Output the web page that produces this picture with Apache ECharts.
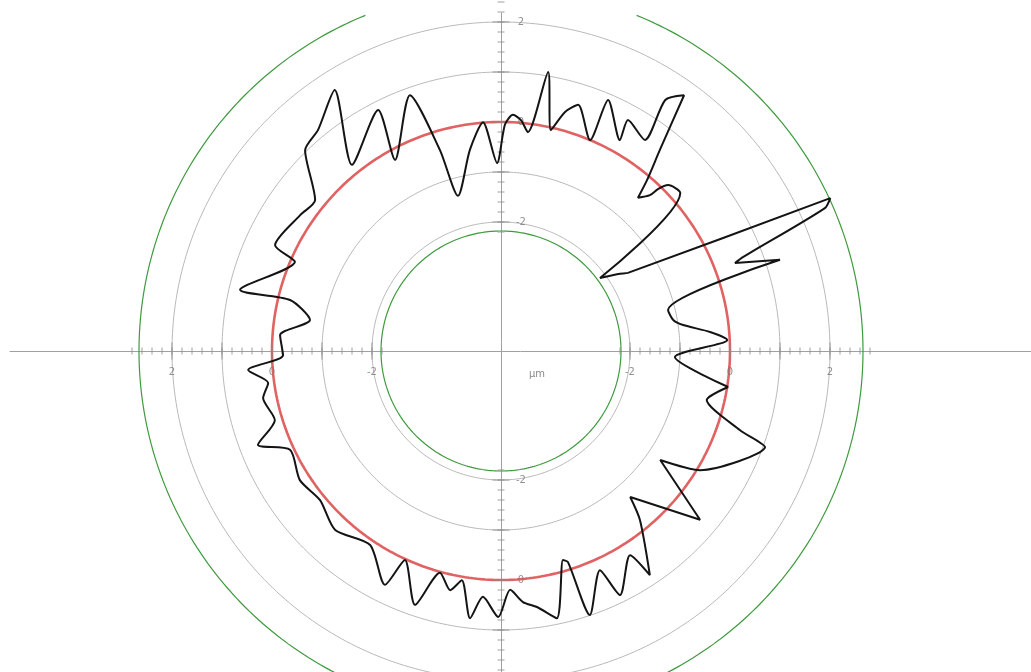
<!DOCTYPE html>
<html>
<head>
<meta charset="utf-8">
<style>
html,body{margin:0;padding:0;background:#fff;}
#chart{width:1031px;height:672px;}
</style>
<script src="https://cdn.jsdelivr.net/npm/echarts/dist/echarts.min.js"></script>
</head>
<body>
<div id="chart"></div>
<script>
// Roundness trace: radial deviation in µm against angle in degrees
// (counter-clockwise from 3 o'clock), listed in the order the stylus travelled.
const profileAngle = [351.0, 358.0, 2.8, 5.2, 8.1, 10.2, 13.8, 18.1, 20.6, 21.2, 23.8, 24.9, 31.6, 33.0, 36.4, 41.4, 44.8, 45.9, 46.3, 48.2, 49.5, 51.7, 54.4, 56.8, 55.7, 61.2, 60.6, 66.9, 67.1, 72.6, 75.0, 77.3, 80.4, 83.0, 85.0, 87.1, 89.0, 91.2, 94.5, 98.8, 105.5, 106.9, 109.6, 119.0, 117.0, 128.7, 122.5, 129.6, 134.3, 140.9, 145.9, 154.9, 156.6, 166.8, 166.4, 170.8, 175.9, 181.1, 184.3, 187.8, 191.2, 197.0, 201.1, 205.1, 212.7, 219.5, 227.2, 236.0, 243.6, 245.3, 251.3, 254.6, 258.0, 260.3, 263.4, 265.8, 269.4, 272.2, 275.0, 278.0, 281.8, 286.5, 287.6, 288.6, 294.3, 296.0, 302.3, 303.6, 309.4, 311.5, 319.7, 325.6, 329.1, 340.0, 341.7, 346.6, 351.0];
const profileDev = [0.02, -1.10, -0.05, -0.38, -0.90, -1.08, -1.14, 1.29, 0.42, 0.61, 2.50, 2.68, -1.60, -1.74, -2.12, 0.20, 0.13, -0.07, -0.27, -0.47, -0.08, 0.55, 1.71, 1.42, 0.53, 0.69, 0.26, 0.88, 0.00, 0.58, 0.37, -0.05, 1.08, -0.17, 0.05, 0.15, -0.05, -0.82, 0.01, -0.51, -1.36, -0.38, 0.85, -0.21, 0.83, 0.19, 1.61, 1.16, 1.03, 0.21, 0.27, 0.41, -0.09, 0.78, -0.24, -0.71, -0.15, -0.22, 0.49, 0.12, 0.27, 0.15, 0.63, 0.08, 0.20, 0.11, 0.30, 0.10, 0.64, 0.02, 0.78, 0.02, 0.31, 0.07, 0.80, 0.35, 0.74, 0.20, 0.46, 0.59, 0.88, -0.22, -0.15, 0.99, 0.23, 0.85, 0.25, 0.80, -0.20, -0.68, 0.64, -0.72, 0.06, 1.04, 0.45, -0.35, 0.02];

// Scale rings, reference circle and the two limit circles (µm)
const ringValues = [-2, -1, 0, 1, 2];
const referenceValue = 0;
const innerLimit = -2.18;
const outerLimit = 2.66;
const outerLimitGap = [68, 112];   // degrees left open at the top

// Scale ticks along the four half-axes (µm)
const minorTickValues = [-2.2, -2.0, -1.8, -1.6, -1.4, -1.2, -1.0, -0.8, -0.6, -0.4, -0.2, 0.0, 0.2, 0.4, 0.6, 0.8, 1.0, 1.2, 1.4, 1.6, 1.8, 2.0, 2.2, 2.4, 2.6, 2.8];
const majorTickValues = [-2, -1, 0, 1, 2];
const labelledValues = [-2, 0, 2];
const axisDirections = [0, 90, 180, 270];
const unitText = 'µm';

// Plot geometry: the centre of the polar plot sits at this deviation value
const centreValue = -4.58;
const pxPerMicron = 50;
const plotRadius = 400;
const cx = 501, cy = 351;

const profileData = profileAngle.map((a, i) => [profileDev[i], a]).filter(d => d[0] !== undefined);

function arc(value, from, to) {
  const pts = [];
  for (let a = from; a <= to; a += 1) pts.push([value, ((a % 360) + 360) % 360]);
  return pts;
}

const series = [];

ringValues.forEach(v => {
  series.push({
    type: 'line', coordinateSystem: 'polar', polarIndex: 0, silent: true,
    showSymbol: false, data: arc(v, 0, 360), z: 1,
    lineStyle: { color: '#b9b9b9', width: 1 }
  });
});

series.push({
  type: 'line', coordinateSystem: 'polar', silent: true, showSymbol: false,
  data: arc(innerLimit, 0, 360), z: 2,
  lineStyle: { color: '#3f9a3f', width: 1.2 }
});
series.push({
  type: 'line', coordinateSystem: 'polar', silent: true, showSymbol: false,
  data: arc(outerLimit, outerLimitGap[1], outerLimitGap[0] + 360), z: 2,
  lineStyle: { color: '#3f9a3f', width: 1.2 }
});
series.push({
  type: 'line', coordinateSystem: 'polar', silent: true, showSymbol: false,
  data: arc(referenceValue, 0, 360), z: 3,
  lineStyle: { color: '#e06262', width: 2.6 }
});

// ticks and their labels on each half-axis
axisDirections.forEach(dir => {
  const horizontal = (dir === 0 || dir === 180);
  series.push({
    type: 'scatter', coordinateSystem: 'polar', silent: true, z: 4,
    symbol: 'rect', symbolSize: horizontal ? [1, 7] : [7, 1],
    itemStyle: { color: '#8a8a8a' },
    data: minorTickValues.map(v => [v, dir])
  });
  series.push({
    type: 'scatter', coordinateSystem: 'polar', silent: true, z: 4,
    symbol: 'rect', symbolSize: horizontal ? [1, 17] : [17, 1],
    itemStyle: { color: '#8a8a8a' },
    data: majorTickValues.map(v => [v, dir]),
    label: {
      show: true, position: 'inside',
      offset: horizontal ? [0, 21] : [20, 0],
      color: '#777', fontSize: 10, fontFamily: 'DejaVu Sans',
      formatter: p => labelledValues.indexOf(p.value[0]) >= 0 ? String(p.value[0]) : ''
    }
  });
});

series.push({
  type: 'line', coordinateSystem: 'polar', silent: true, z: 6,
  showSymbol: false, smooth: 0.25, data: profileData,
  lineStyle: { color: '#141414', width: 2 }
});

const chart = echarts.init(document.getElementById('chart'), null, { renderer: 'canvas' });
chart.setOption({
  animation: false,
  backgroundColor: '#ffffff',
  grid: { left: 10, right: 0, top: 13, bottom: 0 },
  xAxis: {
    type: 'value', min: -(cx - 10) / pxPerMicron, max: (1031 - cx) / pxPerMicron,
    axisLine: { onZero: true, lineStyle: { color: '#a0a0a0', width: 1 } },
    axisTick: { show: false }, axisLabel: { show: false }, splitLine: { show: false }
  },
  yAxis: {
    type: 'value', min: -(672 - cy) / pxPerMicron, max: (cy - 13) / pxPerMicron,
    axisLine: { onZero: true, lineStyle: { color: '#a0a0a0', width: 1 } },
    axisTick: { show: false }, axisLabel: { show: false }, splitLine: { show: false }
  },
  polar: { center: [cx, cy], radius: plotRadius },
  angleAxis: { type: 'value', min: 0, max: 360, startAngle: 0, clockwise: false, show: false },
  radiusAxis: { type: 'value', min: centreValue, max: centreValue + plotRadius / pxPerMicron, show: false },
  graphic: [{
    type: 'text', left: 529, top: 369,
    style: { text: unitText, fill: '#888', font: '10px "DejaVu Sans"' }
  }],
  series: series
});
</script>
</body>
</html>
